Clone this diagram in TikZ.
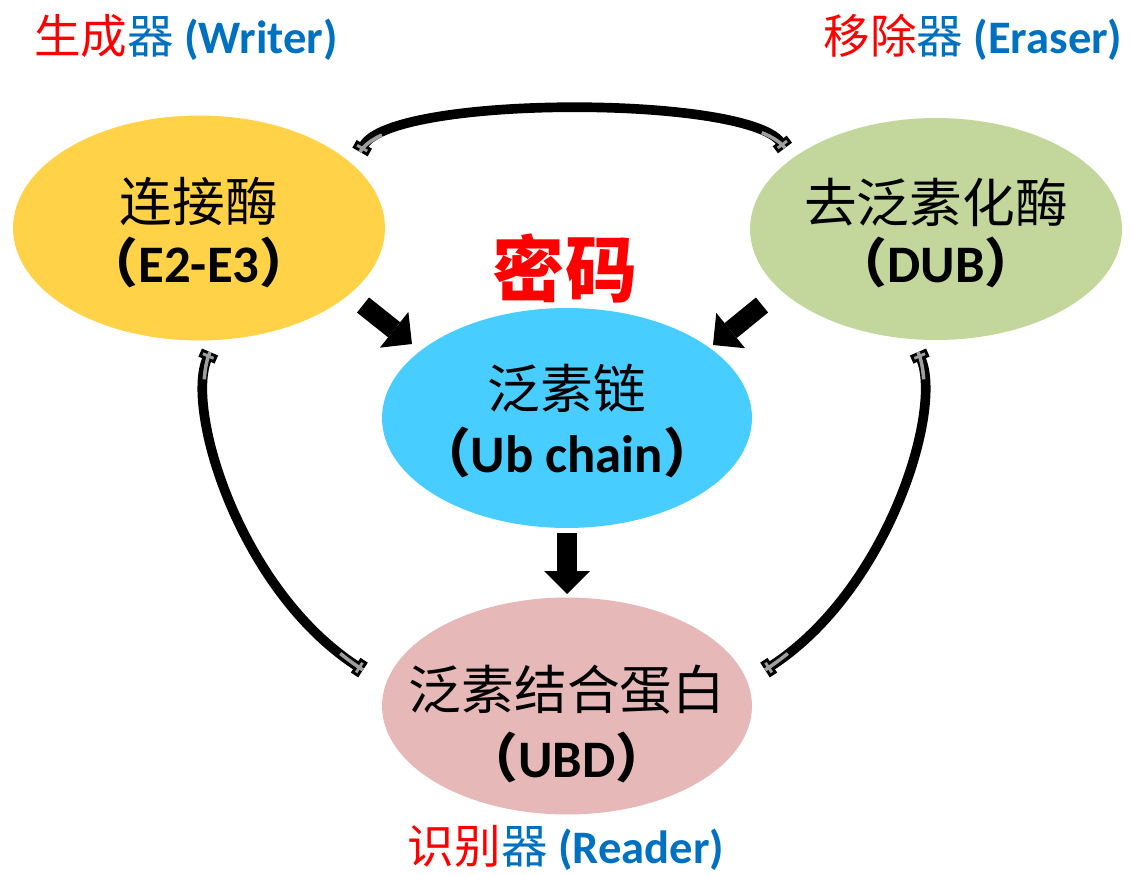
\documentclass[tikz,border=0pt]{standalone}
\usepackage{fontspec}
\newfontfamily\cjk{Noto Sans CJK SC}
\newfontfamily\carl{Carlito}
\usetikzlibrary{shapes.geometric,arrows.meta}
\definecolor{ylw}{HTML}{FFD247}
\definecolor{grn}{HTML}{C3D69B}
\definecolor{sky}{HTML}{47CDFF}
\definecolor{pnk}{HTML}{E6B8B7}
\definecolor{blu}{HTML}{0070C0}
\newcommand{\lpar}{{\cjk （}}
\newcommand{\rpar}{{\cjk ）}}
\begin{document}
\begin{tikzpicture}[x=0.02cm,y=-0.02cm,
  blob/.style={ellipse, draw=none, inner sep=0pt},
  cn/.style={font=\cjk\fontsize{30}{36}\selectfont, inner sep=0pt},
  en/.style={font=\carl\bfseries\fontsize{30}{36}\selectfont, inner sep=0pt},
  head/.style={font=\cjk\fontsize{26.5}{32}\selectfont, inner sep=0pt},
  blk/.style={line width=11pt, -{Triangle[length=13pt,width=26pt,line width=0pt]}},
  endcap/.style={},
  curve/.style={line width=5.5pt, {Rectangle[length=5pt,width=10pt,fill=gray!75,line width=1.6pt]}-{Rectangle[length=5pt,width=10pt,fill=gray!75,line width=1.6pt]}},
  gry/.style={line width=2pt, draw=gray!75, dash pattern=on 16pt off 2000pt}
]
\useasboundingbox (0,0) rectangle (1132,875);

% ellipses
\node[blob, fill=ylw, minimum width=7.44cm, minimum height=4.5cm] (lig) at (199,228) {};
\node[blob, fill=grn, minimum width=7.44cm, minimum height=4.44cm] (dub) at (936,229) {};
\node[blob, fill=sky, minimum width=7.4cm, minimum height=4.4cm] (ub) at (567,418) {};
\node[blob, fill=pnk, minimum width=7.4cm, minimum height=4.34cm] (ubd) at (567,706) {};

% texts in ellipses
\node[cn] (lig1) at (199,202) {连接酶};
\node[en] (lig2) at (199,262) {\lpar E2-E3\rpar};
\node[cn] (dub1) at (936,202) {去泛素化酶};
\node[en] (dub2) at (936,262) {\lpar DUB\rpar};
\node[cn] (ub1) at (567,388) {泛素链};
\node[en] (ub2) at (567,452) {\lpar Ub chain\rpar};
\node[cn] (ubd1) at (567,690) {泛素结合蛋白};
\node[en] (ubd2) at (567,757) {\lpar UBD\rpar};

% title
\node[font=\cjk\bfseries\fontsize{41}{48}\selectfont, text=red, inner sep=0pt] (code) at (565,268) {密码};

% headings
\node[head] (writer) at (186,37) {\textcolor{red}{生成}\textcolor{blu}{器 {\carl\bfseries (Writer)}}};
\node[head] (eraser) at (973,37) {\textcolor{red}{移除}\textcolor{blu}{器 {\carl\bfseries (Eraser)}}};
\node[head] (reader) at (566,848) {\textcolor{red}{识别}\textcolor{blu}{器 {\carl\bfseries (Reader)}}};

% block arrows
\coordinate (a1s) at (363,305); \coordinate (a1e) at (412,344);
\coordinate (a2s) at (762,305); \coordinate (a2e) at (713,345);
\coordinate (a3s) at (567,533); \coordinate (a3e) at (567,594);
\draw[blk] (a1s) -- (a1e);
\draw[blk] (a2s) -- (a2e);
\draw[blk] (a3s) -- (a3e);

% curved connectors
\coordinate (c1a) at (360,152); \coordinate (c1b) at (785,148);
\coordinate (c2a) at (210,352); \coordinate (c2b) at (363,670);
\coordinate (c3a) at (918,352); \coordinate (c3b) at (765,670);
\draw[curve] (c1a) .. controls (392,95) and (745,95) .. (c1b);
\draw[gry] (c1a) .. controls (392,95) and (745,95) .. (c1b);
\draw[gry] (c1b) .. controls (745,95) and (392,95) .. (c1a);
\draw[curve] (c2a) .. controls (185,410) and (240,590) .. (c2b);
\draw[gry] (c2a) .. controls (185,410) and (240,590) .. (c2b);
\draw[gry] (c2b) .. controls (240,590) and (185,410) .. (c2a);
\draw[curve] (c3a) .. controls (943,410) and (888,590) .. (c3b);
\draw[gry] (c3a) .. controls (943,410) and (888,590) .. (c3b);
\draw[gry] (c3b) .. controls (888,590) and (943,410) .. (c3a);
\end{tikzpicture}
\end{document}
